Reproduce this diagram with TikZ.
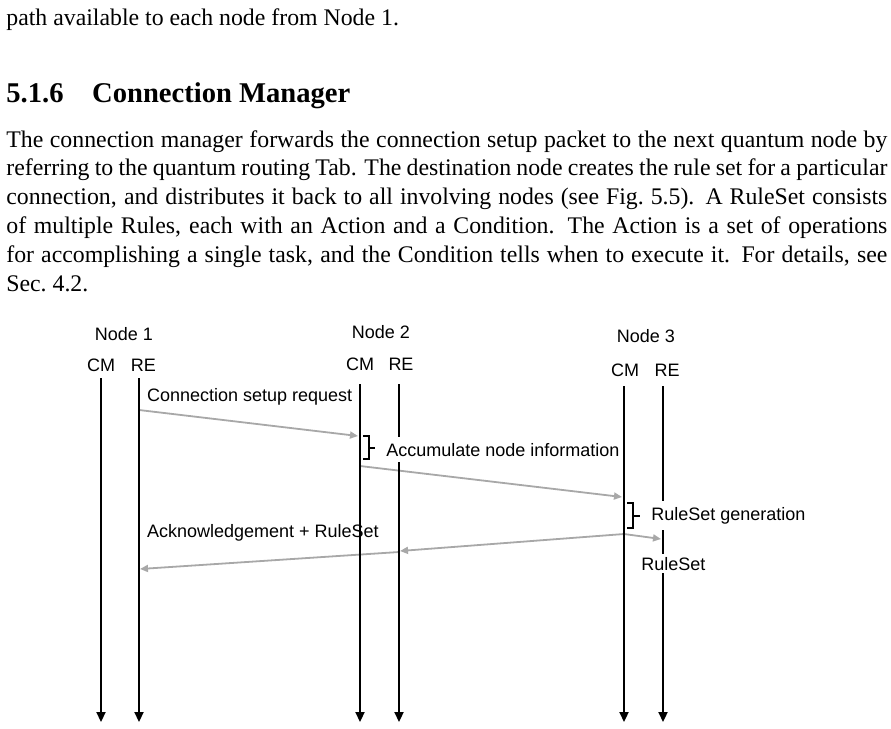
\documentclass[tikz,border=0pt]{standalone}
\usepackage{fontspec}
\setmainfont{Liberation Serif}
\newfontfamily\arialfont{Liberation Sans}
\usetikzlibrary{arrows.meta}
\definecolor{msggray}{RGB}{168,168,168}

\tikzset{every picture/.style={line width=0.75pt}}
\tikzset{
  bodytext/.style={font=\fontsize{23.8}{28.8}\selectfont, inner sep=0pt},
  lbl/.style={font=\arialfont\fontsize{18}{21}\selectfont, inner sep=0.75pt},
  lifeline/.style={line width=2.2pt, -{Triangle[length=10pt,width=9pt]}},
  msg/.style={draw=msggray, line width=1.8pt, -{Triangle[length=8pt,width=7pt]}},
  brace/.style={line width=2pt},
  cover/.style={fill=white, inner ysep=6pt, inner xsep=2pt}
}

\begin{document}
\begin{tikzpicture}[x=1pt,y=1pt,yscale=-1,xscale=1]
\useasboundingbox (0,0) rectangle (891,728);
% Text Node
\node (prevline) at (6,25) [anchor=base west][bodytext] {path available to each node from Node 1.};
% Text Node
\node (heading) at (6,102) [anchor=base west][inner sep=0pt] [font=\fontsize{28.6}{34}\selectfont\bfseries] {5.1.6\quad Connection Manager};
% Text Node
\node (para) at (6,147) [anchor=base west][bodytext] [text width=881pt, align=justify] {The connection manager forwards the connection setup packet to the next quantum node by\linebreak referring to the quantum routing Tab. The destination node creates the rule set for a particular\linebreak connection, and distributes it back to all involving nodes (see Fig.~5.5).  A RuleSet consists\linebreak of multiple Rules, each with an Action and a Condition.  The Action is a set of operations\linebreak for accomplishing a single task, and the Condition tells when to execute it.  For details, see\linebreak Sec.~4.2.};

% Text Node
\node (node1) at (124,340) [anchor=base][lbl] {Node 1};
% Text Node
\node (node2) at (381,338) [anchor=base][lbl] {Node 2};
% Text Node
\node (node3) at (646,342) [anchor=base][lbl] {Node 3};
% Text Node
\node (cm1) at (101,371) [anchor=base][lbl] {CM};
% Text Node
\node (re1) at (143.5,371) [anchor=base][lbl] {RE};
% Text Node
\node (cm2) at (360,370) [anchor=base][lbl] {CM};
% Text Node
\node (re2) at (401,370) [anchor=base][lbl] {RE};
% Text Node
\node (cm3) at (625,376) [anchor=base][lbl] {CM};
% Text Node
\node (re3) at (667,376) [anchor=base][lbl] {RE};

% Text Node
\node (setupreq) at (146,401) [anchor=base west][lbl] {Connection setup request};
% Text Node
\node (ackrs) at (146,537) [anchor=base west][lbl] {Acknowledgement + RuleSet};

\coordinate (cm1top) at (101,378);  \coordinate (cm1end) at (101,722);
\coordinate (re1top) at (139,378);  \coordinate (re1end) at (139,722);
\coordinate (cm2top) at (360,384);  \coordinate (cm2end) at (360,722);
\coordinate (re2top) at (399,384);  \coordinate (re2end) at (399,722);
\coordinate (cm3top) at (624,386);  \coordinate (cm3end) at (624,722);
\coordinate (re3top) at (663,386);  \coordinate (re3end) at (663,722);

\coordinate (m1s) at (139,410);  \coordinate (m1e) at (358,436);
\coordinate (m2s) at (360,466);  \coordinate (m2e) at (622,497);
\coordinate (m3s) at (624,534);  \coordinate (m3e) at (661,539);
\coordinate (m4s) at (624,534);  \coordinate (m4e) at (400,551);
\coordinate (m5s) at (399,552);  \coordinate (m5e) at (140,569);

%Straight Lines
\draw [msg] (m1s) -- (m1e) ;
%Straight Lines
\draw [msg] (m2s) -- (m2e) ;
%Straight Lines
\draw [msg] (m3s) -- (m3e) ;
%Straight Lines
\draw [msg] (m4s) -- (m4e) ;
%Straight Lines
\draw [msg] (m5s) -- (m5e) ;

%Straight Lines
\draw [lifeline] (cm1top) -- (cm1end) ;
%Straight Lines
\draw [lifeline] (re1top) -- (re1end) ;
%Straight Lines
\draw [lifeline] (cm2top) -- (cm2end) ;
%Straight Lines
\draw [lifeline] (re2top) -- (re2end) ;
%Straight Lines
\draw [lifeline] (cm3top) -- (cm3end) ;
%Straight Lines
\draw [lifeline] (re3top) -- (re3end) ;

%Shape: Bracket
\draw [brace] (363,436) -- (369,436) -- (369,459) -- (363,459) (369,448) -- (375,448) ;
%Shape: Bracket
\draw [brace] (627,503) -- (633,503) -- (633,528) -- (627,528) (633,516) -- (640,516) ;

% Text Node
\node (accum) at (384,456) [anchor=base west][lbl][cover] {Accumulate node information};
% Text Node
\node (rsgen) at (649,520) [anchor=base west][lbl][cover] {RuleSet generation};
% Text Node
\node (rsrule) at (639,570) [anchor=base west][lbl][cover,inner ysep=3pt] {RuleSet};
\end{tikzpicture}
\end{document}
